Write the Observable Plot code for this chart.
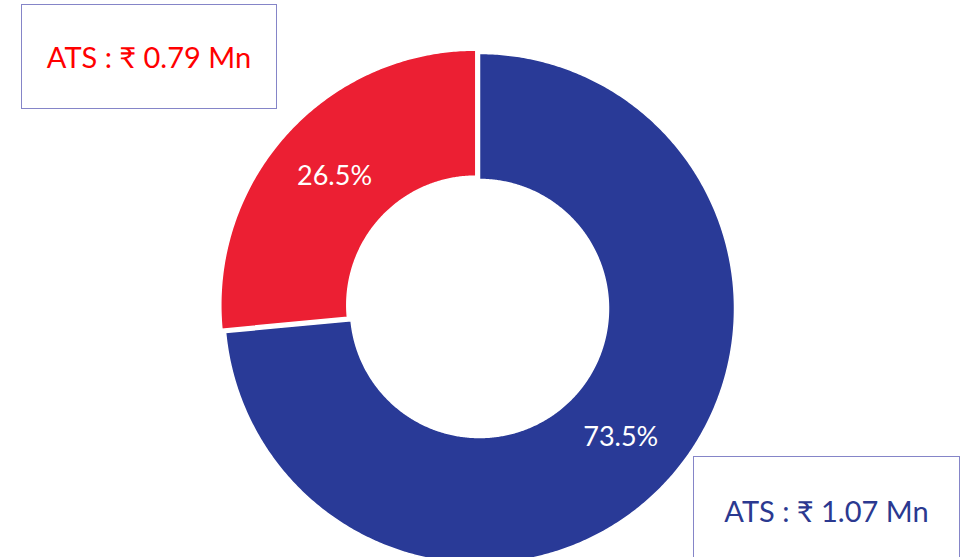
<!DOCTYPE html>
<html><head><meta charset="utf-8">
<script src="https://cdn.jsdelivr.net/npm/d3@7"></script>
<script src="https://cdn.jsdelivr.net/npm/@observablehq/plot@0.6"></script>
<style>
body{margin:0;background:#fff;}
#wrap{position:relative;width:974px;height:557px;overflow:hidden;font-family:Lato,"Noto Sans",sans-serif}
#wrap svg{position:absolute;left:0;top:0}
.box{position:absolute;border:1px solid #8585c8;background:#fff;display:flex;align-items:center;justify-content:center;font-size:29px;box-sizing:border-box;white-space:nowrap}
</style></head><body><div id="wrap"></div>
<script>
// Data
const categories = ["Segment B", "Segment A"];      // blue slice, red slice
const shares = [73.5, 26.5];                        // percent of total
const shareLabels = ["73.5%", "26.5%"];
const atsLabels = ["ATS : ₹ 1.07 Mn", "ATS : ₹ 0.79 Mn"];
const sliceColors = ["#293a97", "#ec1f33"];
const atsColors = ["#2b3990", "#ff0000"];
const explode = [0, 5];

// Geometry (pixel units, centre at 0,0, y up)
const R = 255, r = 129, labelR = 191;
const total = d3.sum(shares);
const pts = [];
const labels = [];
let start = 0;
shares.forEach((v, i) => {
  const a0 = start, a1 = start + v / total * 2 * Math.PI;
  start = a1;
  const mid = (a0 + a1) / 2;
  const ox = explode[i] * Math.sin(mid), oy = explode[i] * Math.cos(mid);
  const n = Math.max(8, Math.ceil((a1 - a0) / (Math.PI / 360)));
  for (let k = 0; k <= n; k++) {
    const a = a0 + (a1 - a0) * k / n;
    pts.push({cat: categories[i], x: ox + R * Math.sin(a), y: oy + R * Math.cos(a)});
  }
  for (let k = n; k >= 0; k--) {
    const a = a0 + (a1 - a0) * k / n;
    pts.push({cat: categories[i], x: ox + r * Math.sin(a), y: oy + r * Math.cos(a)});
  }
  labels.push({cat: categories[i], text: shareLabels[i], x: ox + labelR * Math.sin(mid), y: oy + labelR * Math.cos(mid)});
});

const chart = Plot.plot({
  width: 974, height: 557,
  marginTop: 0, marginRight: 0, marginBottom: 0, marginLeft: 0,
  x: {domain: [-479, 495], axis: null},
  y: {domain: [-249, 308], axis: null},
  color: {domain: categories, range: sliceColors},
  style: {background: "white", overflow: "visible"},
  marks: [
    Plot.line(pts, {x: "x", y: "y", z: "cat", fill: "cat", stroke: "white", strokeWidth: 1.5, curve: "linear-closed"}),
    Plot.text(labels, {x: "x", y: "y", text: "text", fill: "white", fontSize: 27, fontFamily: "Lato, 'Noto Sans', sans-serif"})
  ]
});
const wrap = document.getElementById("wrap");
wrap.appendChild(chart);

const boxes = [
  {left: 693, top: 456, width: 267, height: 108},
  {left: 21, top: 4, width: 256, height: 105}
];
boxes.forEach((b, i) => {
  const d = document.createElement("div");
  d.className = "box";
  Object.assign(d.style, {left: b.left + "px", top: b.top + "px", width: b.width + "px", height: b.height + "px", color: atsColors[i]});
  d.textContent = atsLabels[i];
  wrap.appendChild(d);
});
</script></body></html>
